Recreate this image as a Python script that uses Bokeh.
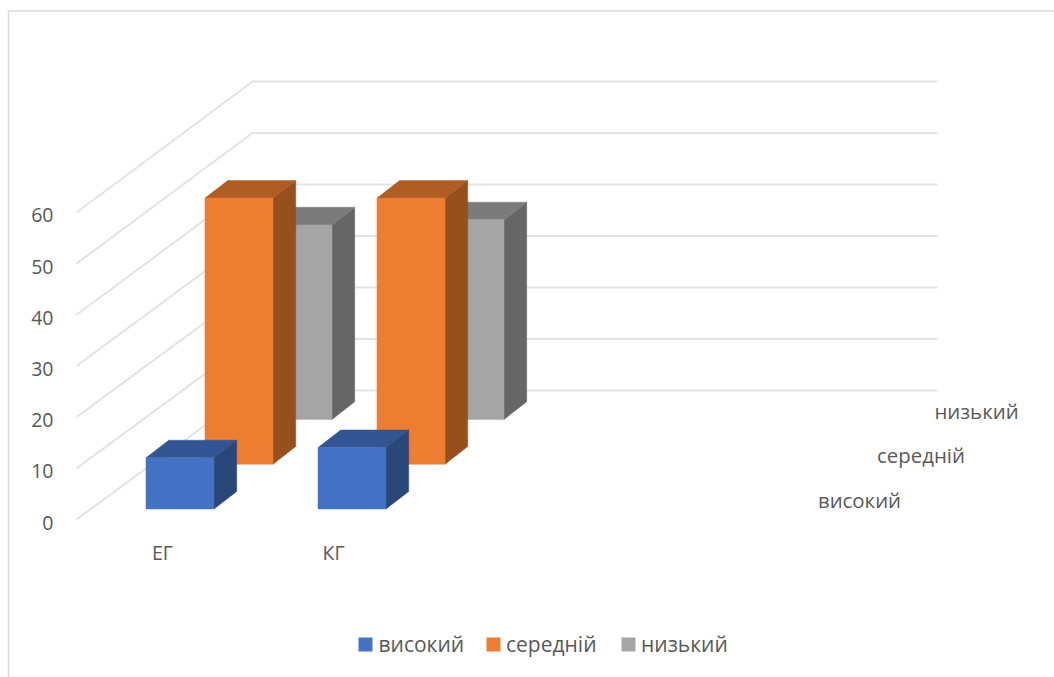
from bokeh.core.properties import value
from bokeh.embed import file_html
from bokeh.models import Range1d
from bokeh.plotting import figure
from bokeh.resources import INLINE

categories = ["ЕГ", "КГ"]
series_names = ["високий", "середній", "низький"]
vysokyi = [10, 12]
serednii = [52, 52]
nyzkyi = [38, 39]
y_ticks = [0, 10, 20, 30, 40, 50, 60]

front_colors = ["#4472c4", "#ed7d31", "#a5a5a5"]
top_colors = ["#335593", "#b05d24", "#7b7b7b"]
side_colors = ["#2a4779", "#974f1e", "#666666"]

FONT = "Open Sans"
TEXT = "#595959"

# Oblique projection of the 3D column chart onto the page.
ORIGIN_X, ORIGIN_Y = 145.5, 508.5
UNIT = 5.117
CAT_STEP = 172.0
SERIES_DX, SERIES_DY = 59.0, -44.8
BAR_W = 68.0
DEPTH_DX, DEPTH_DY = 22.7, -17.6


def bar_faces(cat, ser, val):
    left = ORIGIN_X + cat * CAT_STEP + ser * SERIES_DX
    right = left + BAR_W
    bottom = ORIGIN_Y + ser * SERIES_DY
    top = bottom - val * UNIT
    front = ([left, right, right, left], [bottom, bottom, top, top])
    lid = ([left, right, right + DEPTH_DX, left + DEPTH_DX],
           [top, top, top + DEPTH_DY, top + DEPTH_DY])
    side = ([right, right + DEPTH_DX, right + DEPTH_DX, right],
            [bottom, bottom + DEPTH_DY, top + DEPTH_DY, top])
    return front, lid, side


p = figure(width=1054, height=677, output_backend="svg", toolbar_location=None,
           x_range=Range1d(0, 1054), y_range=Range1d(677, 0),
           min_border=0, outline_line_color=None, background_fill_color="white")
p.xaxis.visible = False
p.yaxis.visible = False
p.xgrid.visible = False
p.ygrid.visible = False

# Chart frame
p.line([8, 8, 1054], [677, 10.5, 10.5], line_color="#d9d9d9", line_width=1.5)

# Side wall and back wall gridlines
for t in y_ticks:
    p.line([76, 252, 937], [519 - t * 5.117, 390 - t * 5.15, 390 - t * 5.15],
           line_color="#e3e3e3", line_width=2)
    p.text([53], [522 - t * 5.117], text=[str(t)], text_align="right",
           text_baseline="middle", text_font=value(FONT),
           text_font_size="19.5px", text_color=TEXT)

# Columns, painted from the back row forward
rows = [vysokyi, serednii, nyzkyi]
for ser in (2, 1, 0):
    for cat in range(len(categories)):
        front, lid, side = bar_faces(cat, ser, rows[ser][cat])
        p.patch(*side, fill_color=side_colors[ser], line_color=side_colors[ser], line_width=0.5)
        p.patch(*lid, fill_color=top_colors[ser], line_color=top_colors[ser], line_width=0.5)
        p.patch(*front, fill_color=front_colors[ser], line_color=front_colors[ser], line_width=0.5)

# Category labels
for i, c in enumerate(categories):
    p.text([162 + i * 171], [552], text=[c], text_align="center",
           text_baseline="middle", text_font=value(FONT),
           text_font_size="19.5px", text_color=TEXT)

# Depth axis labels
for name, x, y in zip(series_names, [859, 920.5, 976], [499, 454, 410]):
    p.text([x], [y], text=[name], text_align="center", text_baseline="middle",
           text_font=value(FONT), text_font_size="20.4px", text_color=TEXT)

# Legend
for name, color, sx, tx in zip(series_names, front_colors, [358, 486, 621], [378, 505.5, 640.5]):
    p.quad(left=[sx], right=[sx + 14], top=[637], bottom=[651],
           fill_color=color, line_color=None)
    p.text([tx], [643], text=[name], text_align="left", text_baseline="middle",
           text_font=value(FONT), text_font_size="21px", text_color=TEXT)

open("out.html", "w").write(file_html(p, INLINE))
